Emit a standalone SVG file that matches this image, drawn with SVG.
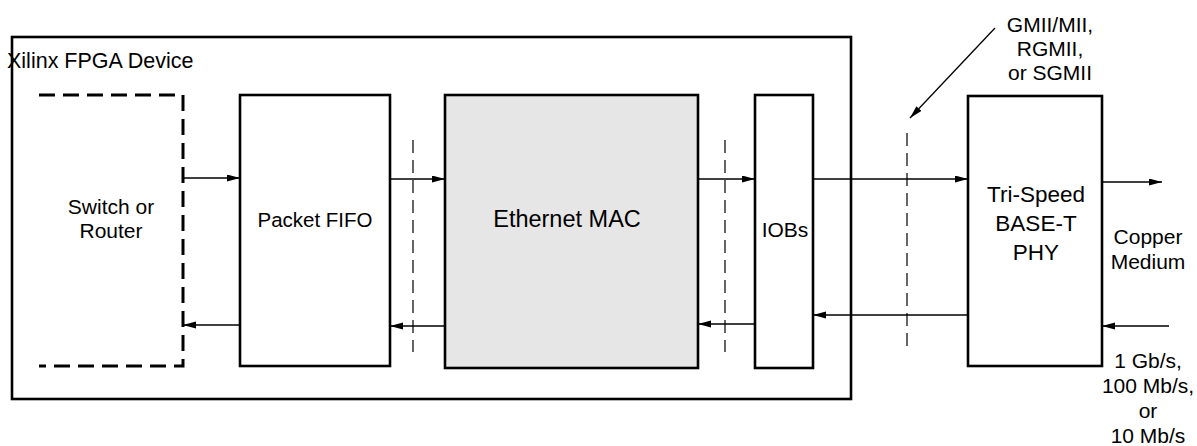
<svg xmlns="http://www.w3.org/2000/svg" width="1197" height="446" viewBox="0 0 1197 446">
<style>
.box{fill:#fff;stroke:#000;stroke-width:2.6}
.mac{fill:#e6e6e6;stroke:#000;stroke-width:2.6}
.dbox{fill:none;stroke:#000;stroke-width:3;stroke-dasharray:16 8}
.sep{fill:none;stroke:#000;stroke-width:1.2;stroke-dasharray:13 7}
.conn{fill:none;stroke:#000;stroke-width:1.3;marker-end:url(#ah)}
text{font-family:"Liberation Sans",Arial,Helvetica,sans-serif;font-size:21px;fill:#000;text-anchor:middle}
</style>
<defs>
<marker id="ah" markerUnits="userSpaceOnUse" markerWidth="14" markerHeight="8" refX="13" refY="3.5" orient="auto">
<path d="M0,0 L13,3.5 L0,7 z" fill="#000"/>
</marker>
</defs>
<g id="fpga">
<rect x="12" y="37" width="839" height="362" fill="none" stroke="#000" stroke-width="2.6"/>
<text x="7" y="68" style="text-anchor:start;font-size:21.5px">Xilinx FPGA Device</text>
</g>
<g id="switch">
<path class="dbox" d="M39,95 H183 V366 H39"/>
<text x="111" y="214">Switch or</text>
<text x="111" y="238">Router</text>
</g>
<g id="fifo">
<rect class="box" x="240" y="95" width="150" height="271"/>
<text x="315" y="227" style="font-size:20.5px">Packet FIFO</text>
</g>
<g id="mac">
<rect class="mac" x="445" y="95" width="253" height="273"/>
<text x="567" y="227" style="font-size:23.5px">Ethernet MAC</text>
</g>
<g id="iobs">
<rect class="box" x="755" y="95" width="58" height="273"/>
<text x="785" y="237">IOBs</text>
</g>
<g id="phy">
<rect class="box" x="968" y="96" width="134" height="270"/>
<text x="1036" y="202" style="font-size:22.5px">Tri-Speed</text>
<text x="1036" y="231" style="font-size:22.5px">BASE-T</text>
<text x="1036" y="260" style="font-size:22.5px">PHY</text>
</g>
<g id="labels">
<text x="1050" y="32">GMII/MII,</text>
<text x="1050" y="56">RGMII,</text>
<text x="1050" y="80">or SGMII</text>
<text x="1148" y="244">Copper</text>
<text x="1148" y="269">Medium</text>
<text x="1148" y="368">1 Gb/s,</text>
<text x="1148" y="393">100 Mb/s,</text>
<text x="1148" y="418">or</text>
<text x="1148" y="443">10 Mb/s</text>
</g>
<g id="separators">
<line class="sep" x1="413" y1="140" x2="413" y2="352"/>
<line class="sep" x1="725" y1="140" x2="725" y2="352"/>
<line class="sep" x1="907" y1="133" x2="907" y2="352"/>
</g>
<g id="connectors">
<line class="conn" x1="183" y1="178" x2="240" y2="178"/>
<line class="conn" x1="240" y1="325" x2="183" y2="325"/>
<line class="conn" x1="390" y1="179" x2="445" y2="179"/>
<line class="conn" x1="445" y1="326" x2="390" y2="326"/>
<line class="conn" x1="698" y1="179" x2="755" y2="179"/>
<line class="conn" x1="755" y1="324" x2="698" y2="324"/>
<line class="conn" x1="813" y1="179" x2="968" y2="179"/>
<line class="conn" x1="968" y1="315" x2="813" y2="315"/>
<line class="conn" x1="1102" y1="182" x2="1162" y2="182"/>
<line class="conn" x1="1169" y1="326" x2="1102" y2="326"/>
<line class="conn" x1="995" y1="28" x2="910" y2="118"/>
</g>
</svg>
